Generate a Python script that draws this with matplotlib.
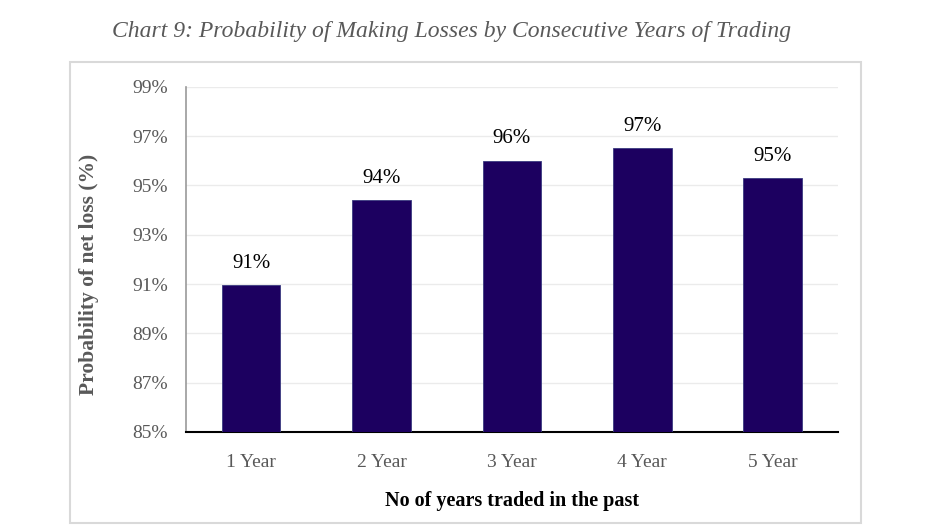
import matplotlib.pyplot as plt
from matplotlib.patches import Rectangle
from matplotlib.ticker import FuncFormatter

# === Data ===
categories = ["1 Year", "2 Year", "3 Year", "4 Year", "5 Year"]
loss_prob = [90.95, 94.4, 96.0, 96.5, 95.28]
bar_labels = ["91%", "94%", "96%", "97%", "95%"]
y_ticks = [85, 87, 89, 91, 93, 95, 97, 99]

plt.rcParams["font.family"] = ["Liberation Serif", "DejaVu Serif"]

fig = plt.figure(figsize=(9.39, 5.29), dpi=100)

# frame around the chart area
fig.patches.append(Rectangle((70 / 939, 1 - 523 / 529), 791 / 939, 461 / 529,
                             transform=fig.transFigure, fill=False,
                             edgecolor="#d9d9d9", linewidth=1.5))

ax = fig.add_axes([186 / 939, 1 - 432 / 529, 651.7 / 939, 345.3 / 529])

x = range(len(categories))
ax.bar(x, [v - 85 for v in loss_prob], bottom=85, width=0.45,
       color="#1c0060", edgecolor="#3a3a80", linewidth=0.6, zorder=3)

for i, (v, lab) in enumerate(zip(loss_prob, bar_labels)):
    ax.text(i, v + 0.5, lab, ha="center", va="bottom", fontsize=15, color="black")

ax.set_xlim(-0.5, len(categories) - 0.5)
ax.set_ylim(85, 99)
ax.set_yticks(y_ticks)
ax.yaxis.set_major_formatter(FuncFormatter(lambda v, p: f"{v:.0f}%"))
ax.set_xticks(list(x))
ax.set_xticklabels(categories)
ax.tick_params(axis="both", length=0, labelsize=14, labelcolor="#595959")
ax.tick_params(axis="x", pad=16)
ax.tick_params(axis="y", pad=13)

ax.grid(axis="y", color="#ebebeb", linewidth=1.0, zorder=0)
for s in ["top", "right"]:
    ax.spines[s].set_visible(False)
ax.spines["left"].set_color("#999999")
ax.spines["left"].set_linewidth(1.2)
ax.spines["bottom"].set_color("black")
ax.spines["bottom"].set_linewidth(1.5)

ax.set_ylabel("Probability of net loss (%)", fontsize=15.5, fontweight="bold",
              color="#595959")
ax.yaxis.set_label_coords(-0.133, 0.457)
ax.set_xlabel("No of years traded in the past", fontsize=14.5, fontweight="bold",
              color="black", labelpad=14)

fig.text(452 / 939, 1 - 31 / 529,
         "Chart 9: Probability of Making Losses by Consecutive Years of Trading",
         ha="center", va="center", fontsize=17, style="italic", color="#595959")

fig.savefig("out.png", dpi=100)
